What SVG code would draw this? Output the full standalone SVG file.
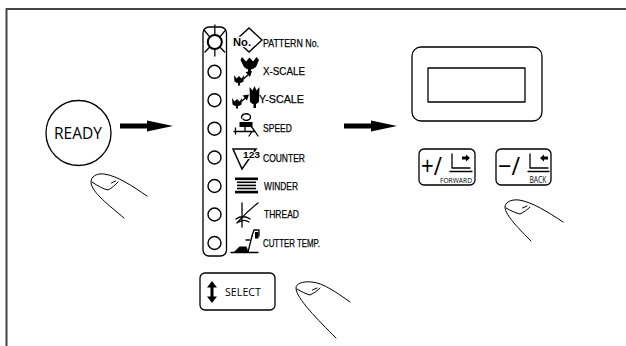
<svg xmlns="http://www.w3.org/2000/svg" width="626" height="346" viewBox="0 0 626 346">
  <defs>
    <style>
      .ln { fill: none; stroke: #000; stroke-width: 1.3; stroke-linecap: round; stroke-linejoin: round; }
      .thin { fill: none; stroke: #000; stroke-width: 1; stroke-linecap: round; stroke-linejoin: round; }
      .blk { fill: #000; stroke: none; }
      .lbl { font-family: "Liberation Sans", "DejaVu Sans", sans-serif; font-size: 11.5px; fill: #000; stroke: #000; stroke-width: 0.25; }
      .key { font-family: "Open Sans", "Liberation Sans", sans-serif; fill: #000; }
      .led { fill: #fff; stroke: #000; stroke-width: 1.4; }
    </style>
    <!-- fat pointing arrow, tip at origin -->
    <path id="bigArrow" d="M-53,-2.4 L-26,-2.4 L-26,-5.5 L0,0 L-26,5.5 L-26,2.4 L-53,2.4 Z"/>
  </defs>

  <!-- page frame -->
  <path d="M626,9 H6.5 V346" fill="none" stroke="#444" stroke-width="2"/>

  <!-- READY key -->
  <g id="ready-key">
    <circle cx="78.5" cy="133" r="32.5" class="ln" stroke-width="1.2"/>
    <text x="78" y="139" class="key" font-size="16.5" text-anchor="middle" textLength="48" lengthAdjust="spacingAndGlyphs">READY</text>
  </g>

  <!-- fingers -->
  <g id="finger-ready">
    <path class="thin" d="M147,196 C132,186 118,176 104,174 C96,173 91,177 91,182 C91,192 110,206 124,218"/>
    <path class="thin" d="M92,182 C98,186 103,189 108,190 C112,188 115,185 118,182"/>
    <path class="thin" d="M111.5,183 L115.5,181"/>
  </g>
  <g id="finger-forward-back">
    <path class="thin" d="M563,222 C548,212 532,202 519,200 C510,199 505,203 505,207 C505,215 520,230 531,241"/>
    <path class="thin" d="M506,208 C511,211 516,213 520,214 C524,212 527,210 530,207"/>
    <path class="thin" d="M522.5,208 L527,206"/>
  </g>
  <g id="finger-select">
    <path class="thin" d="M350,302 C336,292 323,283 312,282 C302,281 296,284 296,288 C296,298 318,320 336,338"/>
    <path class="thin" d="M297,289 C302,292 306,294 310,295 C314,293 317,291 320,288"/>
    <path class="thin" d="M312.5,290 L317,288"/>
  </g>

  <!-- indicator column -->
  <g id="indicator-panel">
    <rect x="203" y="27" width="23.5" height="229" rx="6" class="ln"/>
    <!-- lit lamp with rays -->
    <circle cx="214.8" cy="42" r="7" fill="#fff" stroke="#000" stroke-width="2"/>
    <g class="ln" stroke-width="1.4">
      <path d="M214.8,34.5 V25"/>
      <path d="M214.8,49.5 V56"/>
      <path d="M209.5,36.7 L204,30"/>
      <path d="M220.1,36.7 L225.6,30"/>
      <path d="M209.5,47.3 L205,52"/>
      <path d="M220.1,47.3 L224.6,52"/>
    </g>
    <circle cx="214.5" cy="71.8" r="6.5" class="led"/>
    <circle cx="214.5" cy="100.2" r="6.5" class="led"/>
    <circle cx="214.5" cy="128.7" r="6.5" class="led"/>
    <circle cx="214.5" cy="157.5" r="6.5" class="led"/>
    <circle cx="214.5" cy="186" r="6.5" class="led"/>
    <circle cx="214.5" cy="214.5" r="6.5" class="led"/>
    <circle cx="214.5" cy="243" r="6.5" class="led"/>
  </g>

  <g id="item-pattern">
    <path d="M249,28 L262,40 L249,52 L236,40 Z" fill="#fff" stroke="#000" stroke-width="1.4"/>
    <text x="233" y="45.5" font-family="Liberation Sans, sans-serif" font-weight="bold" font-size="11" textLength="18" lengthAdjust="spacingAndGlyphs" stroke="#fff" stroke-width="2.5" paint-order="stroke">No.</text>
    <text x="263" y="47" class="lbl" textLength="56" lengthAdjust="spacingAndGlyphs">PATTERN No.</text>
  </g>

  <g id="item-xscale">
    <!-- small flower -->
    <path class="blk" d="M234,75 L236.5,78.5 L239,76 L241.5,78.5 L244,75 L243.5,81.5 Q239,85 234.5,81.5 Z"/>
    <path class="blk" d="M238,83 h2 v2.5 h-2 Z"/>
    <!-- arrow -->
    <path class="ln" stroke-width="1.8" d="M244,78.5 L249,74"/>
    <path class="blk" d="M252,71 L245.5,72 L250,77 Z"/>
    <!-- large flower -->
    <path class="blk" d="M242,57 L246,61.5 L249.5,57.5 L253,61.5 L256.5,57 L259,60 L256,67 Q249.5,72 244,67 L240.5,60 Z"/>
    <path class="blk" d="M248,69 h3 v5 h-3 Z"/>
  </g>
  <text x="263" y="75" class="lbl" textLength="42" lengthAdjust="spacingAndGlyphs">X-SCALE</text>

  <g id="item-yscale">
    <path class="blk" d="M232,98 L234.5,101.5 L237,99 L239.5,101.5 L242,98 L241.5,104.5 Q237,108 232.5,104.5 Z"/>
    <path class="blk" d="M236,106 h2 v2.5 h-2 Z"/>
    <path class="ln" stroke-width="1.8" d="M242,101 L246,97.5"/>
    <path class="blk" d="M249,94.5 L242.5,95.5 L247,100.5 Z"/>
    <!-- tall flower -->
    <path class="blk" d="M249.5,87 L252.5,90.5 L254.5,86 L256.5,90.5 L259.5,87 L259,102 Q254.5,106.5 250,102 Z"/>
    <path class="blk" d="M253.5,104 h2.5 v4 h-2.5 Z"/>
  </g>
  <text x="259" y="103" class="lbl" textLength="45" lengthAdjust="spacingAndGlyphs">Y-SCALE</text>

  <g id="item-speed">
    <path class="ln" stroke-width="1.8" d="M241.5,118 C241.5,112.5 250.5,112.5 250.5,117 C250.5,120.5 245,121.5 243,119"/>
    <rect x="239.5" y="122" width="13" height="5" class="blk"/>
    <path class="ln" stroke-width="1.8" d="M245,127 V131 M234,131.5 H255 M251,126 L255,131.5 L258,136 M252,131.5 L249,136 M235.5,128 V134"/>
  </g>
  <text x="263" y="132" class="lbl" textLength="29" lengthAdjust="spacingAndGlyphs">SPEED</text>

  <g id="item-counter">
    <path d="M233,149 L256,149 L242,169 Z" fill="#fff" stroke="#000" stroke-width="1.5"/>
    <text x="243" y="157.5" font-family="Liberation Sans, sans-serif" font-weight="bold" font-size="8.5" textLength="17" lengthAdjust="spacingAndGlyphs" stroke="#fff" stroke-width="1.5" paint-order="stroke">123</text>
  </g>
  <text x="263" y="162" class="lbl" textLength="42" lengthAdjust="spacingAndGlyphs">COUNTER</text>

  <g id="item-winder">
    <rect x="235" y="177.5" width="23" height="2.6" class="blk"/>
    <rect x="237" y="181.5" width="19" height="1.6" class="blk"/>
    <rect x="237" y="184.6" width="19" height="1.6" class="blk"/>
    <rect x="237" y="187.7" width="19" height="1.6" class="blk"/>
    <rect x="235" y="190.8" width="23" height="2.6" class="blk"/>
  </g>
  <text x="264" y="190" class="lbl" textLength="34" lengthAdjust="spacingAndGlyphs">WINDER</text>

  <g id="item-thread">
    <path class="ln" stroke-width="2.2" d="M242,203 V227"/>
    <path class="ln" stroke-width="1.8" d="M258,203 C250,209 243,216 237,223"/>
    <path class="ln" stroke-width="1.4" d="M236,219 C240,216 246,216 250,219 M239,222 C242,220 246,220 249,222"/>
  </g>
  <text x="264" y="218" class="lbl" textLength="35" lengthAdjust="spacingAndGlyphs">THREAD</text>

  <g id="item-cutter">
    <path class="blk" d="M234,252 L239.5,246.5 L246.5,246.5 L248.5,252 Z"/>
    <path class="ln" stroke-width="1.8" d="M231,252.5 H258 M248,252 L252,236"/>
    <path class="ln" stroke-width="1.6" d="M249.5,240 H246 M252,236 L254,230 H259 V236"/>
    <path class="blk" d="M255,232 h3.5 v6.5 h-3.5 Z"/>
  </g>
  <text x="263" y="247" class="lbl" textLength="57" lengthAdjust="spacingAndGlyphs">CUTTER TEMP.</text>

  <!-- SELECT key -->
  <g id="select-key">
    <rect x="200" y="273" width="75" height="37" rx="5" class="ln"/>
    <path class="blk" d="M212,281 L217,287.5 L213.5,287.5 L213.5,296.5 L217,296.5 L212,303 L207,296.5 L210.5,296.5 L210.5,287.5 L207,287.5 Z"/>
    <text x="225" y="295.5" class="key" font-size="10.5" textLength="36" lengthAdjust="spacingAndGlyphs">SELECT</text>
  </g>

  <!-- display -->
  <g id="display">
    <rect x="412" y="47" width="130" height="74" rx="9" class="ln"/>
    <rect x="428" y="68" width="97" height="34" class="ln"/>
  </g>

  <!-- +/FORWARD key -->
  <g id="forward-key">
    <rect x="419" y="149" width="56" height="36" rx="5" class="ln"/>
    <text x="421" y="174.5" class="key" font-size="25" textLength="21" lengthAdjust="spacingAndGlyphs">+/</text>
    <path class="ln" stroke-width="1.8" d="M452,154 V168 H470"/>
    <path class="ln" d="M450,171.5 H472"/>
    <path class="blk" d="M462,156.5 H466 V154.5 L470,158 L466,161.5 V159.5 H462 Z"/>
    <text x="440" y="182.5" class="key" font-size="8" textLength="32" lengthAdjust="spacingAndGlyphs">FORWARD</text>
  </g>

  <!-- -/BACK key -->
  <g id="back-key">
    <rect x="496" y="149" width="55" height="36" rx="5" class="ln"/>
    <text x="498" y="174.5" class="key" font-size="25" textLength="22" lengthAdjust="spacingAndGlyphs">−/</text>
    <path class="ln" stroke-width="1.8" d="M530,154 V168 H548"/>
    <path class="ln" d="M528,171.5 H549"/>
    <path class="blk" d="M548,156.5 H544 V154.5 L540,158 L544,161.5 V159.5 H548 Z"/>
    <text x="529.5" y="182.5" class="key" font-size="8.5" textLength="17" lengthAdjust="spacingAndGlyphs">BACK</text>
  </g>

  <!-- connectors -->
  <g id="connectors">
    <use href="#bigArrow" x="173" y="126"/>
    <use href="#bigArrow" x="397" y="126"/>
  </g>
</svg>
